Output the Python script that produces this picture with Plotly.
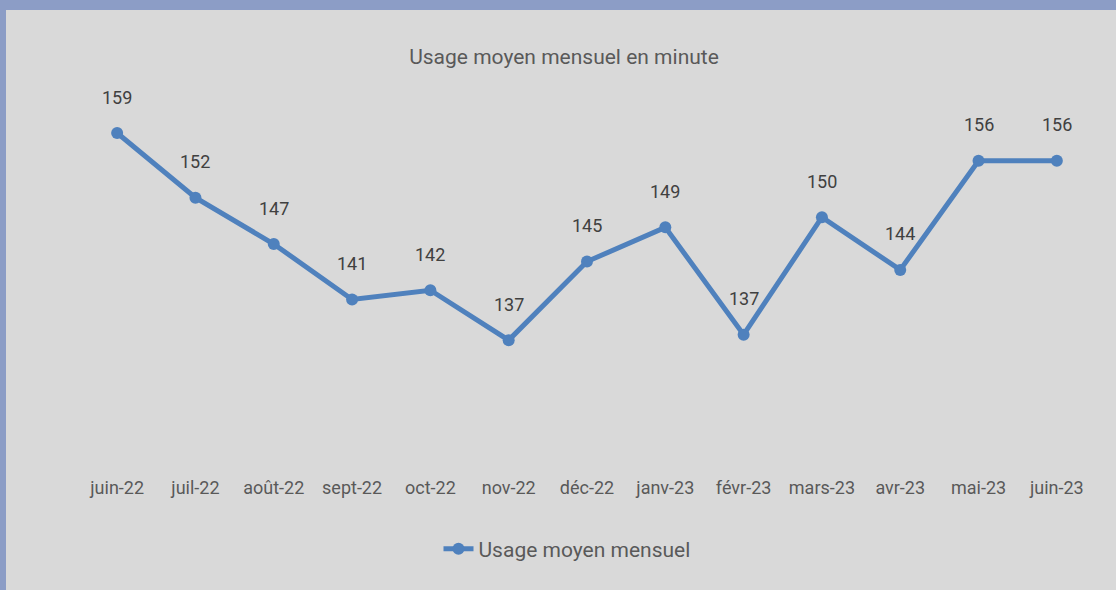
import plotly.graph_objects as go

months = ["juin-22", "juil-22", "août-22", "sept-22", "oct-22", "nov-22", "déc-22",
          "janv-23", "févr-23", "mars-23", "avr-23", "mai-23", "juin-23"]
usage = [159, 152, 147, 141, 142, 136.6, 145.1, 148.8, 137.2, 149.9, 144.2, 156, 156]
labels = ["159", "152", "147", "141", "142", "137", "145", "149", "137", "150", "144", "156", "156"]

series_name = "Usage moyen mensuel"
title = "Usage moyen mensuel en minute"

LINE = "#4f81bd"
TXT = "#595959"
BG = "#d9d9d9"
BORDER = "#8c9dc6"
FONT = "Roboto, Lato, sans-serif"

W, H = 1116, 590
ML, MR, MT, MB = 78, 20, 70, 115
pw, ph = W - ML - MR, H - MT - MB

fig = go.Figure()
fig.add_trace(go.Scatter(
    x=months, y=usage, mode="lines+markers", name=series_name,
    line=dict(color=LINE, width=5),
    marker=dict(color=LINE, size=12, symbol="circle"),
))

for m, v, t in zip(months, usage, labels):
    fig.add_annotation(x=m, y=v, text=t, showarrow=False, yshift=36,
                       font=dict(family=FONT, size=18, color="#404040"))

# border bands (top and left)
fig.add_shape(type="rect", xref="paper", yref="paper",
              x0=-ML / pw, x1=(pw + MR) / pw, y0=(ph + MT - 10) / ph, y1=(ph + MT) / ph,
              fillcolor=BORDER, line=dict(width=0), layer="above")
fig.add_shape(type="rect", xref="paper", yref="paper",
              x0=-ML / pw, x1=(-ML + 6) / pw, y0=-MB / ph, y1=(ph + MT) / ph,
              fillcolor=BORDER, line=dict(width=0), layer="above")

fig.update_layout(
    width=W, height=H,
    margin=dict(l=ML, r=MR, t=MT, b=MB),
    paper_bgcolor=BG, plot_bgcolor=BG,
    title=dict(text=title, x=564 / W, xref="container", xanchor="center",
               y=1 - 57 / H, yref="container", yanchor="middle",
               font=dict(family=FONT, size=21, color=TXT)),
    xaxis=dict(type="category", range=[-0.5, 12.5], showgrid=False, zeroline=False,
               showline=False, ticks="", tickfont=dict(family=FONT, size=18, color=TXT)),
    yaxis=dict(range=[122.03, 165.81], showgrid=False, zeroline=False, showline=False,
               showticklabels=False, ticks=""),
    showlegend=True,
    legend=dict(orientation="h", x=567 / W, xref="container", xanchor="center",
                y=1 - 549 / H, yref="container", yanchor="middle",
                bgcolor="rgba(0,0,0,0)",
                font=dict(family=FONT, size=21, color=TXT)),
)

fig.write_html("out.html",
               config={"displayModeBar": False},
               post_script="document.body.style.margin='0';document.body.style.padding='0';")
